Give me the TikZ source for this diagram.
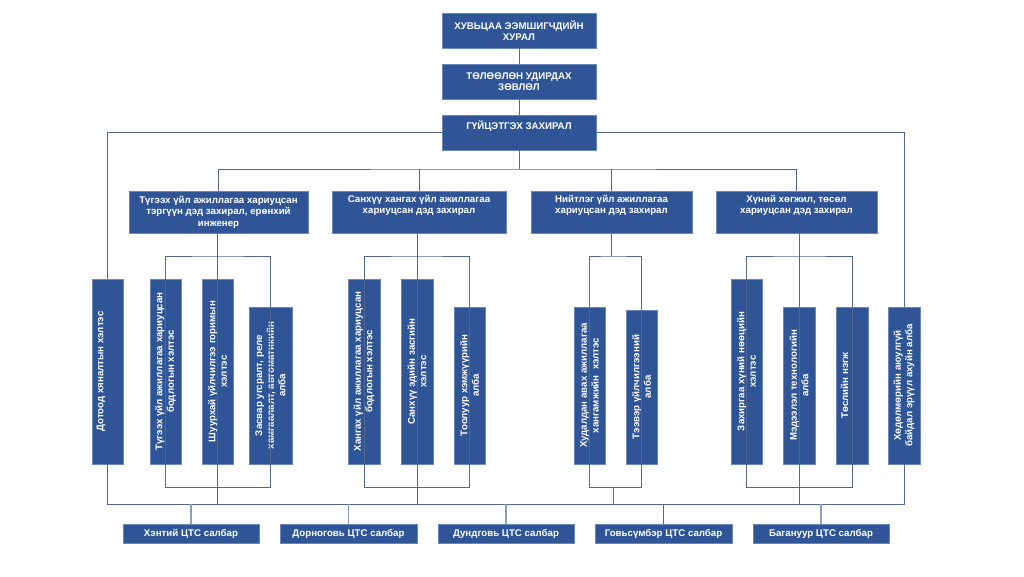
\documentclass[tikz,border=0pt]{standalone}
\usepackage{fontspec}
\setmainfont{Liberation Sans}
\definecolor{boxblue}{HTML}{2F5597}
\definecolor{boxedge}{HTML}{6A86BA}
\definecolor{linec}{HTML}{52668F}
\definecolor{linel}{HTML}{8C9CBC}
\begin{document}
\begin{tikzpicture}[x=1pt,y=-1pt,
  box/.style={draw=boxedge, line width=0.6pt, fill=boxblue, text=white, align=center,
    inner sep=1pt, font=\bfseries\fontsize{9.7}{11.6}\selectfont},
  vbox/.style={box, rotate=90},
  conn/.style={draw=linec, line width=0.9pt},
  connl/.style={draw=linel, line width=1.2pt}]
\useasboundingbox (0,0) rectangle (1024,576);
% top
\node[box, minimum width=154pt, minimum height=35pt] (sh) at (519,30.5) {ХУВЬЦАА ЭЭМШИГЧДИЙН\\ХУРАЛ};
\node[box, minimum width=154pt, minimum height=35pt] (tuz) at (519,81.5) {ТӨЛӨӨЛӨН УДИРДАХ\\ЗӨВЛӨЛ};
\node[box, minimum width=154pt, minimum height=35pt] (gz) at (519,132.5) {ГҮЙЦЭТГЭХ ЗАХИРАЛ\\\strut};
% deputies
\node[box, minimum width=179pt, minimum height=42pt] (A) at (218.5,212) {Түгээх үйл ажиллагаа хариуцсан\\тэргүүн дэд захирал, ерөнхий\\инженер};
\node[box, minimum width=174pt, minimum height=42pt] (B) at (419,212) {Санхүү хангах үйл ажиллагаа\\хариуцсан дэд захирал\\\strut};
\node[box, minimum width=161pt, minimum height=42pt] (C) at (611.5,212) {Нийтлэг үйл ажиллагаа\\хариуцсан дэд захирал\\\strut};
\node[box, minimum width=161pt, minimum height=42pt] (D) at (796.5,212) {Хүний хөгжил, төсөл\\хариуцсан дэд захирал\\\strut};
% vertical boxes
\node[vbox, minimum width=185pt, minimum height=31pt] (dot) at (107.5,371.5) {Дотоод хяналтын хэлтэс\\\strut};
\node[vbox, minimum width=185pt, minimum height=31pt] (tug) at (165.5,371.5) {Түгээх үйл ажиллагаа хариуцсан\\бодлогын хэлтэс};
\node[vbox, minimum width=185pt, minimum height=31pt] (shu) at (217.5,371.5) {Шуурхай үйлчилгээ горимын\\хэлтэс};
\node[vbox, minimum width=157pt, minimum height=43pt] (zas) at (270.5,385.5) {Засвар угсралт, реле\\хамгаалалт, автоматикийн\\алба};
\node[vbox, minimum width=185pt, minimum height=32pt] (khan) at (364,371.5) {Хангах үйл ажиллагаа хариуцсан\\бодлогын хэлтэс};
\node[vbox, minimum width=185pt, minimum height=32pt] (san) at (417,371.5) {Санхүү эдийн засгийн\\хэлтэс};
\node[vbox, minimum width=157pt, minimum height=31pt] (too) at (469.5,385.5) {Тоолуур хэмжүүрийн\\алба};
\node[vbox, minimum width=157pt, minimum height=31pt] (hud) at (589.5,385.5) {Худалдан авах ажиллагаа\\хангамжийн\ \ хэлтэс};
\node[vbox, minimum width=154pt, minimum height=31pt] (tee) at (641.5,387) {Тээвэр үйлчилгээний\\алба};
\node[vbox, minimum width=185pt, minimum height=31pt] (zah) at (746.5,371.5) {Захиргаа хүний нөөцийн\\хэлтэс};
\node[vbox, minimum width=157pt, minimum height=32pt] (med) at (799,385.5) {Мэдээлэл технологийн\\алба};
\node[vbox, minimum width=157pt, minimum height=32pt] (toe) at (852,385.5) {Төслийн нэгж\\\strut};
\node[vbox, minimum width=157pt, minimum height=32pt] (hod) at (904,385.5) {Хөдөлмөрийн аюулгүй\\байдал эрүүл ахуйн алба};
% bottom branches
\node[box, minimum width=136pt, minimum height=19pt] (khe) at (191,533.5) {Хэнтий ЦТС салбар};
\node[box, minimum width=137pt, minimum height=19pt] (dor) at (348.5,533.5) {Дорноговь ЦТС салбар};
\node[box, minimum width=136pt, minimum height=19pt] (dun) at (506,533.5) {Дундговь ЦТС салбар};
\node[box, minimum width=137pt, minimum height=19pt] (gov) at (663.5,533.5) {Говьсүмбэр ЦТС салбар};
\node[box, minimum width=136pt, minimum height=19pt] (bag) at (821,533.5) {Багануур ЦТС салбар};
% helper coordinates
\coordinate (r169) at (0,169);
\coordinate (r256) at (0,256);
\coordinate (r487) at (0,487);
\coordinate (bus) at (0,504);
\coordinate (j1) at (519,169);
\coordinate (bC) at (613,487);
% top chain
\draw[conn] (sh.south) -- (tuz.north);
\draw[conn] (tuz.south) -- (gz.north);
\draw[conn] (dot.east) |- (gz.west);
\draw[conn] (hod.east) |- (gz.east);
\draw[conn] (gz.south) -- (j1);
\draw[conn] (A.north) |- (j1) -| (D.north);
\draw[conn] (B.north) -- (B.north |- r169);
\draw[conn] (C.north) -- (C.north |- r169);
% group A
\draw[conn] (tug.west) |- (shu.west |- r256) -| (zas.west);
\draw[conn] (A.south -| shu.west) -- (shu.west);
\draw[conn] (tug.east) |- (shu.east |- r487) -| (zas.east);
% group B
\draw[conn] (khan.west) |- (san.west |- r256) -| (too.west);
\draw[conn] (B.south -| san.west) -- (san.west);
\draw[conn] (khan.east) |- (san.east |- r487) -| (too.east);
% group C
\draw[conn] (hud.west) |- (C.south |- r256) -| (tee.west);
\draw[conn] (C.south) -- (C.south |- r256);
\draw[conn] (hud.east) |- (tee.east |- r487) -- (tee.east);
% group D
\draw[conn] (zah.west) |- (med.west |- r256) -| (toe.west);
\draw[conn] (D.south -| med.west) -- (med.west);
\draw[conn] (zah.east) |- (med.east |- r487) -| (toe.east);
% bus
\draw[conn] (dot.west) |- (hod.west |- bus) -- (hod.west);
\draw[conn] (shu.east) -- (shu.east |- bus);
\draw[conn] (san.east) -- (san.east |- bus);
\draw[conn] (bC) -- (bC |- bus);
\draw[conn] (med.east) -- (med.east |- bus);
% branches
\draw[connl] (khe.north) -- (khe.north |- bus);
\draw[connl] (dor.north) -- (dor.north |- bus);
\draw[connl] (dun.north) -- (dun.north |- bus);
\draw[conn] (gov.north) -- (gov.north |- bus);
\draw[connl] (bag.north) -- (bag.north |- bus);
\end{tikzpicture}
\end{document}
